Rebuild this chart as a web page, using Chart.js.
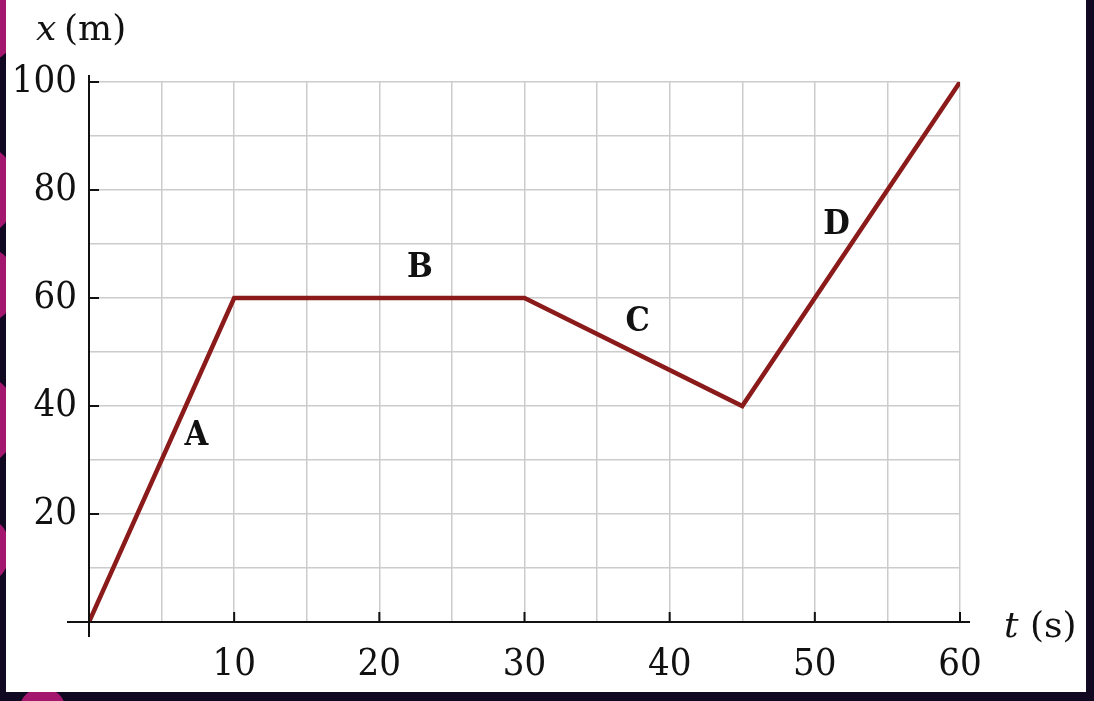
<!DOCTYPE html>
<html>
<head>
<meta charset="utf-8">
<script src="https://cdn.jsdelivr.net/npm/chart.js@4.4.1/dist/chart.umd.min.js"></script>
<style>
  body { margin: 0; width: 1094px; height: 701px; background: #110822; overflow: hidden; position: relative; }
  .dot { position: absolute; border-radius: 50%; background: #a3176f; }
  #panel { position: absolute; left: 6px; top: 0; width: 1080px; height: 692px; background: #fff; }
</style>
</head>
<body>
<div class="dot" style="left:-40px;top:-30px;width:60px;height:90px"></div>
<div class="dot" style="left:-30px;top:150px;width:45px;height:80px"></div>
<div class="dot" style="left:-30px;top:250px;width:45px;height:70px"></div>
<div class="dot" style="left:-30px;top:380px;width:45px;height:80px"></div>
<div class="dot" style="left:-30px;top:520px;width:40px;height:60px"></div>
<div class="dot" style="left:20px;top:688px;width:45px;height:40px"></div>
<div id="panel"><canvas id="chart" width="1080" height="692"></canvas></div>
<script>
// position-time data
const times = [0, 10, 30, 45, 60];
const positions = [0, 60, 60, 40, 100];

// segment labels and where they sit (in data units)
const segLabels = ['A', 'B', 'C', 'D'];
const segLabelT = [7.4, 22.8, 37.8, 51.5];
const segLabelX = [34.5, 65.5, 55.5, 73.5];

const xTickLabels = [10, 20, 30, 40, 50, 60];
const yTickLabels = [20, 40, 60, 80, 100];

const serif = '"DejaVu Serif Condensed", "DejaVu Serif", serif';
const titleSerif = '"DejaVu Serif", serif';

const axesPlugin = {
    id: 'axes',
    afterDatasetsDraw(chart) {
        const ctx = chart.ctx;
        const xs = chart.scales.x, ys = chart.scales.y;
        const x0 = xs.getPixelForValue(0), y0 = ys.getPixelForValue(0);
        ctx.save();
        ctx.strokeStyle = '#111';
        ctx.lineWidth = 2;
        ctx.beginPath();
        ctx.moveTo(x0 - 22, y0); ctx.lineTo(xs.getPixelForValue(60) + 10, y0);
        ctx.moveTo(x0, ys.getPixelForValue(100) - 7); ctx.lineTo(x0, y0 + 15);
        xTickLabels.forEach(t => {
            const px = xs.getPixelForValue(t);
            ctx.moveTo(px, y0); ctx.lineTo(px, y0 - 10);
        });
        yTickLabels.forEach(v => {
            const py = ys.getPixelForValue(v);
            ctx.moveTo(x0, py); ctx.lineTo(x0 + 10, py);
        });
        ctx.stroke();

        // segment letters
        ctx.fillStyle = '#111';
        ctx.font = 'bold 34px ' + serif;
        ctx.textAlign = 'center';
        ctx.textBaseline = 'middle';
        segLabels.forEach((s, i) => {
            ctx.fillText(s, xs.getPixelForValue(segLabelT[i]), ys.getPixelForValue(segLabelX[i]));
        });

        // axis titles
        ctx.textAlign = 'left';
        ctx.textBaseline = 'alphabetic';
        ctx.font = 'italic 36px ' + titleSerif;
        ctx.fillText('x', 30, 40);
        ctx.font = '36px ' + titleSerif;
        ctx.fillText('(m)', 58, 40);
        ctx.font = 'italic 36px ' + titleSerif;
        ctx.fillText('t', 998, 637);
        ctx.font = '36px ' + titleSerif;
        ctx.fillText('(s)', 1024, 637);
        ctx.restore();
    }
};

new Chart(document.getElementById('chart'), {
    type: 'scatter',
    data: {
        datasets: [{
            data: times.map((t, i) => ({ x: t, y: positions[i] })),
            showLine: true,
            borderColor: '#8b1a1a',
            borderWidth: 4.5,
            pointRadius: 0,
            tension: 0
        }]
    },
    options: {
        responsive: false,
        animation: false,
        layout: { padding: { top: 82, right: 126, bottom: 0, left: 0 } },
        plugins: { legend: { display: false }, tooltip: { enabled: false } },
        scales: {
            x: {
                type: 'linear', min: 0, max: 60,
                afterFit: s => { s.height = 70; },
                border: { display: false },
                grid: { color: '#cccccc', lineWidth: 1.5, drawTicks: false },
                ticks: {
                    stepSize: 5, autoSkip: false, maxRotation: 0, padding: 20,
                    color: '#111', font: { family: serif, size: 38 },
                    callback: v => xTickLabels.includes(v) ? String(v) : ''
                }
            },
            y: {
                type: 'linear', min: 0, max: 100,
                afterFit: s => { s.width = 83; },
                border: { display: false },
                grid: { color: '#cccccc', lineWidth: 1.5, drawTicks: false },
                ticks: {
                    stepSize: 10, autoSkip: false, padding: 12,
                    color: '#111', font: { family: serif, size: 38 },
                    callback: v => yTickLabels.includes(v) ? String(v) : ''
                }
            }
        }
    },
    plugins: [axesPlugin]
});
</script>
</body>
</html>
